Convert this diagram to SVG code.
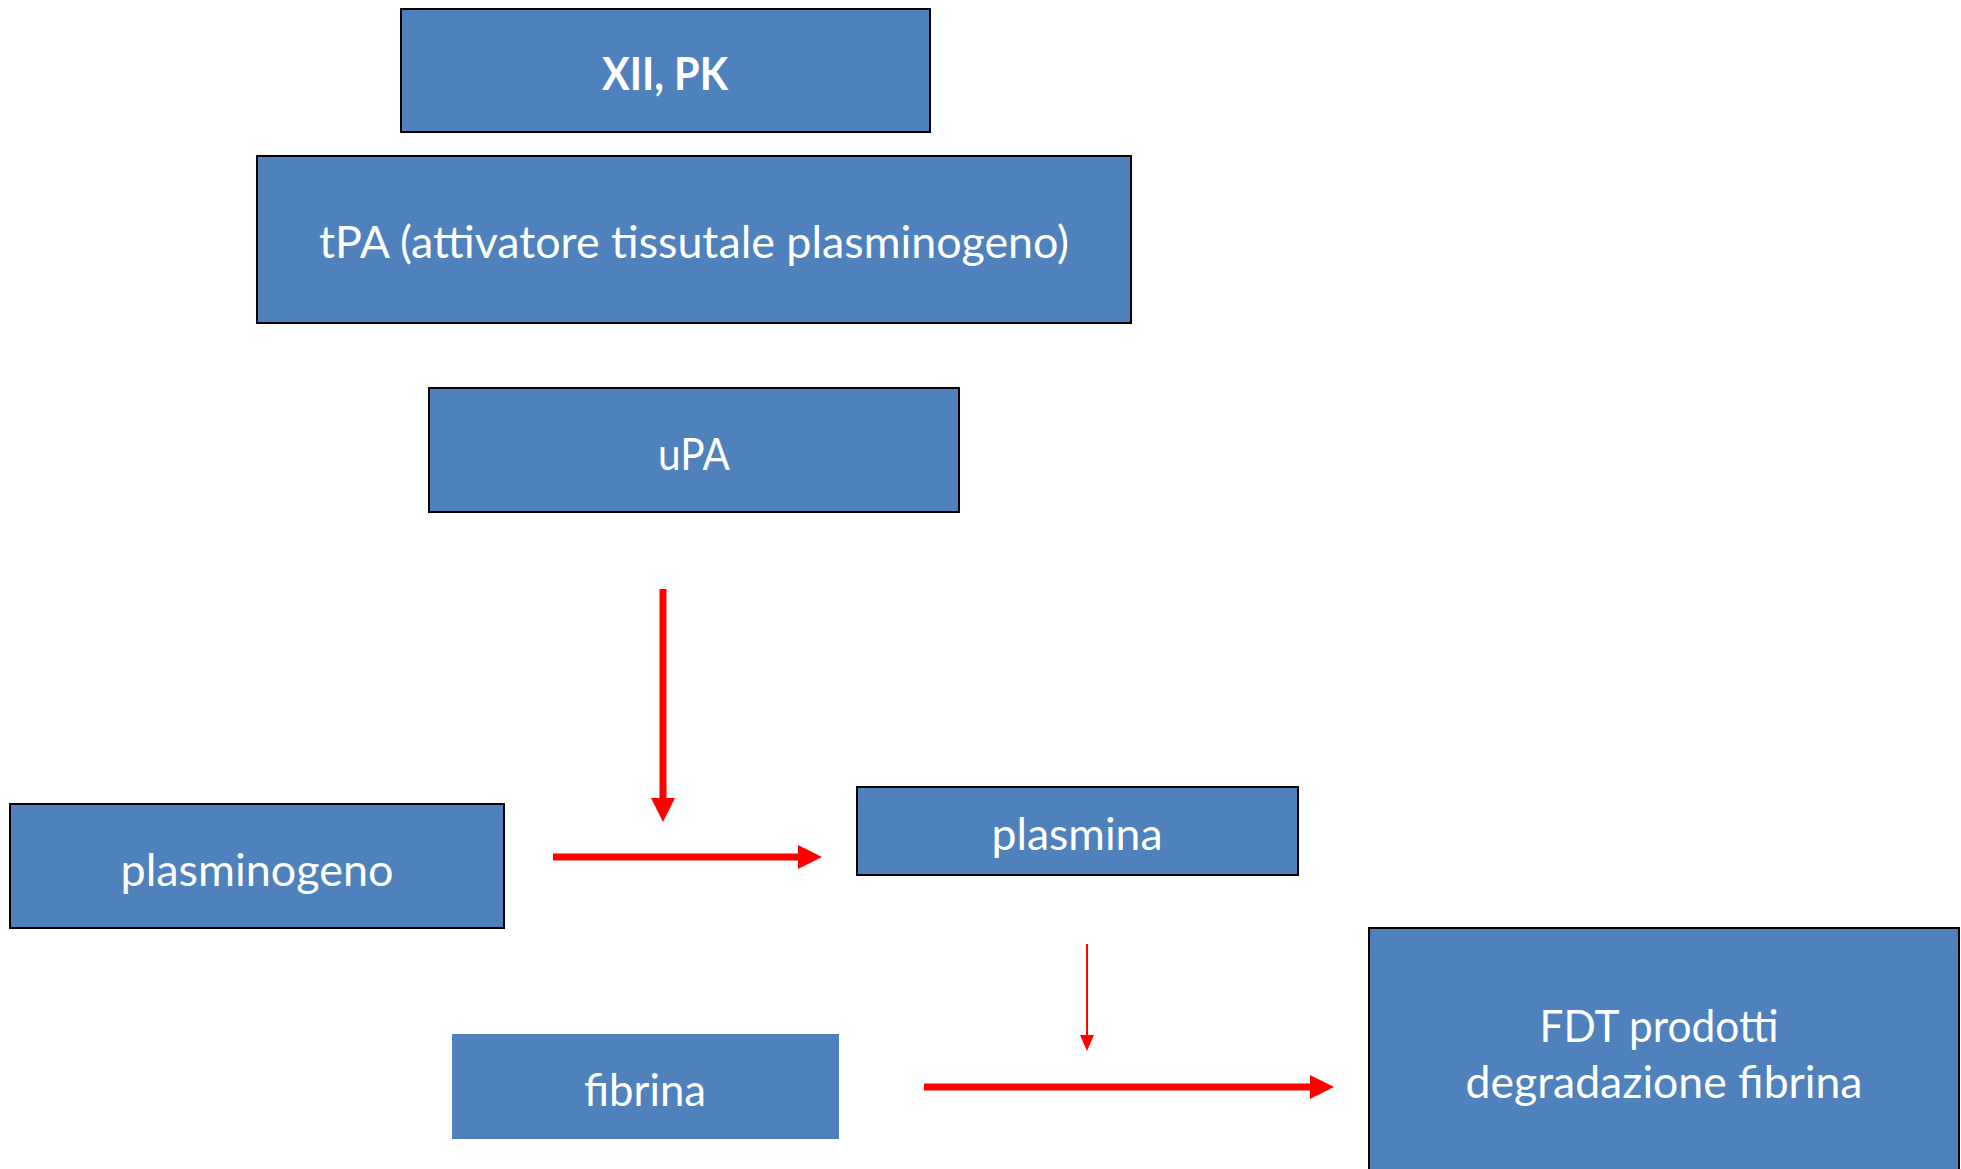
<svg xmlns="http://www.w3.org/2000/svg" width="1961" height="1169" viewBox="0 0 1961 1169">
  <style>
    .box { fill: #4F81BD; stroke: #000000; stroke-width: 2; }
    .plain { fill: #4F81BD; }
    .lbl { fill: #FFFFFF; font-family: Lato, "Open Sans", "Liberation Sans", sans-serif; font-size: 45px; text-anchor: middle; }
    .bold { font-weight: bold; }
    .thick { stroke: #FF0000; stroke-width: 7; fill: none; }
    .thin { stroke: #FF0000; stroke-width: 2; fill: none; }
  </style>
  <defs>
    <marker id="headBig" markerUnits="userSpaceOnUse" markerWidth="26" markerHeight="26" viewBox="0 -13 26 26" refX="0" refY="0" orient="auto">
      <path d="M0,-12 L24,0 L0,12 Z" fill="#FF0000"/>
    </marker>
    <marker id="headSmall" markerUnits="userSpaceOnUse" markerWidth="18" markerHeight="18" viewBox="0 -9 18 18" refX="0" refY="0" orient="auto">
      <path d="M0,-7 L16,0 L0,7 Z" fill="#FF0000"/>
    </marker>
  </defs>

  <g id="node-xii-pk">
    <rect class="box" x="401" y="9" width="529" height="123"/>
    <text class="lbl bold" x="665" y="90" textLength="126" lengthAdjust="spacingAndGlyphs">XII, PK</text>
  </g>

  <g id="node-tpa">
    <rect class="box" x="257" y="156" width="874" height="167"/>
    <text class="lbl" x="694" y="258" textLength="750" lengthAdjust="spacingAndGlyphs">tPA (attivatore tissutale plasminogeno)</text>
  </g>

  <g id="node-upa">
    <rect class="box" x="429" y="388" width="530" height="124"/>
    <text class="lbl" x="694" y="470" textLength="72" lengthAdjust="spacingAndGlyphs">uPA</text>
  </g>

  <g id="node-plasminogeno">
    <rect class="box" x="10" y="804" width="494" height="124"/>
    <text class="lbl" x="257" y="886" textLength="273" lengthAdjust="spacingAndGlyphs">plasminogeno</text>
  </g>

  <g id="node-plasmina">
    <rect class="box" x="857" y="787" width="441" height="88"/>
    <text class="lbl" x="1077" y="850" textLength="171" lengthAdjust="spacingAndGlyphs">plasmina</text>
  </g>

  <g id="node-fibrina">
    <rect class="plain" x="452" y="1034" width="387" height="105"/>
    <text class="lbl" x="645" y="1106" textLength="122" lengthAdjust="spacingAndGlyphs">fibrina</text>
  </g>

  <g id="node-fdt">
    <rect class="box" x="1369" y="928" width="590" height="270"/>
    <text class="lbl" x="1659" y="1042" textLength="239" lengthAdjust="spacingAndGlyphs">FDT prodotti</text>
    <text class="lbl" x="1664" y="1098" textLength="397" lengthAdjust="spacingAndGlyphs">degradazione fibrina</text>
  </g>

  <g id="connectors">
    <!-- activators acting on the conversion -->
    <line class="thick" x1="663" y1="589" x2="663" y2="798" marker-end="url(#headBig)"/>
    <!-- plasminogeno to plasmina -->
    <line class="thick" x1="553" y1="857" x2="798" y2="857" marker-end="url(#headBig)"/>
    <!-- plasmina acting on fibrin breakdown -->
    <line class="thin" x1="1087" y1="944" x2="1087" y2="1035" marker-end="url(#headSmall)"/>
    <!-- fibrina to FDT -->
    <line class="thick" x1="924" y1="1087" x2="1310" y2="1087" marker-end="url(#headBig)"/>
  </g>
</svg>
